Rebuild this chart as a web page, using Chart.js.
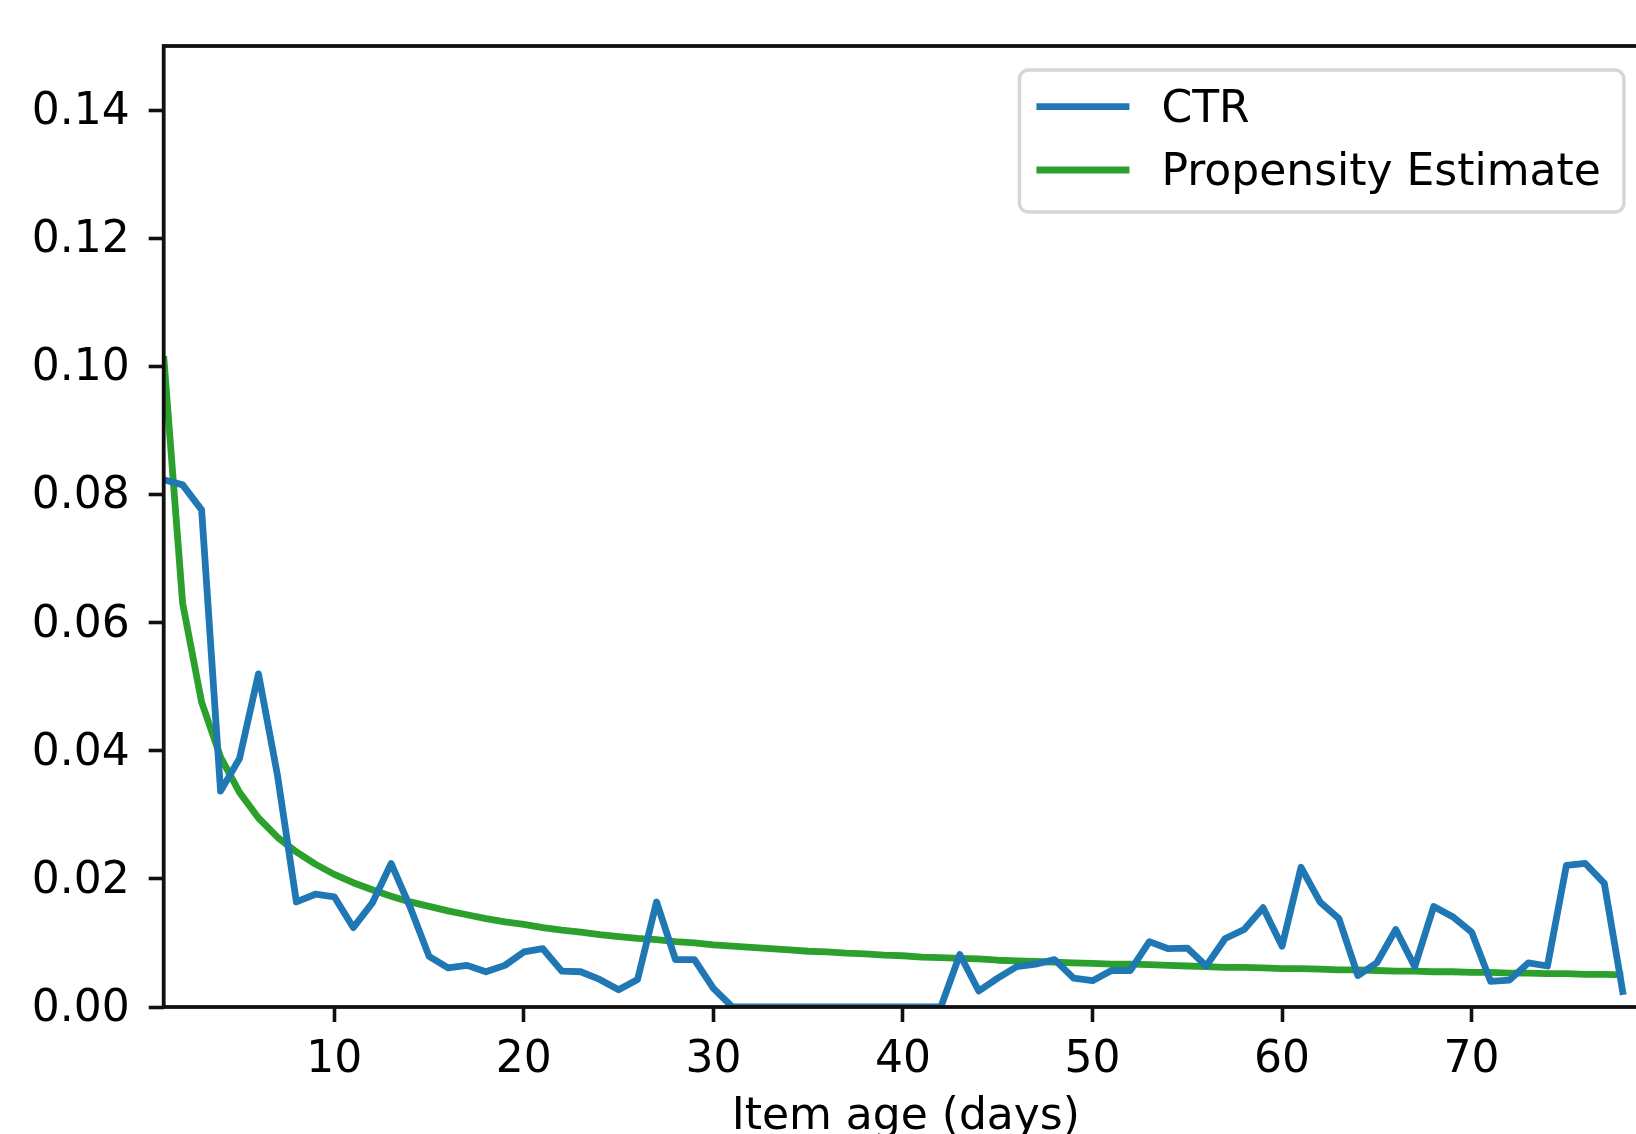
<!DOCTYPE html>
<html>
<head>
<meta charset="utf-8">
<script src="https://cdn.jsdelivr.net/npm/chart.js@4.4.1/dist/chart.umd.min.js"></script>
<style>
  html, body { margin: 0; padding: 0; background: #fff; overflow: hidden; }
  #wrap { width: 1636px; height: 1134px; overflow: hidden; position: relative; }
  #ageChart { position: absolute; left: 0; top: 0; }
</style>
</head>
<body>
<div id="wrap"><canvas id="ageChart" width="1680" height="1140"></canvas></div>
<script>
// item age in days
const days = [1, 2, 3, 4, 5, 6, 7, 8, 9, 10, 11, 12, 13, 14, 15, 16, 17, 18, 19, 20,
  21, 22, 23, 24, 25, 26, 27, 28, 29, 30, 31, 32, 33, 34, 35, 36, 37, 38, 39, 40,
  41, 42, 43, 44, 45, 46, 47, 48, 49, 50, 51, 52, 53, 54, 55, 56, 57, 58, 59, 60,
  61, 62, 63, 64, 65, 66, 67, 68, 69, 70, 71, 72, 73, 74, 75, 76, 77, 78];

const ctr = [0.0823, 0.0815, 0.0776, 0.0337, 0.0388, 0.0520, 0.0362, 0.0164, 0.0176, 0.0172,
  0.0124, 0.0162, 0.0224, 0.0156, 0.0079, 0.0061, 0.0065, 0.0055, 0.0065, 0.0086,
  0.0091, 0.0056, 0.0055, 0.0043, 0.0027, 0.0043, 0.0164, 0.0074, 0.0074, 0.0029,
  0, 0, 0, 0, 0, 0, 0, 0, 0, 0,
  0, 0, 0.0082, 0.0025, 0.0045, 0.0063, 0.0067, 0.0074, 0.0045, 0.0041,
  0.0057, 0.0057, 0.0102, 0.0091, 0.0092, 0.0064, 0.0107, 0.0121, 0.0155, 0.0095,
  0.0218, 0.0164, 0.0138, 0.0049, 0.0069, 0.0121, 0.0063, 0.0157, 0.0141, 0.0117,
  0.0040, 0.0042, 0.0069, 0.0064, 0.0221, 0.0224, 0.0193, 0.0019];

const propensity = [0.1016, 0.0630, 0.0476, 0.0390, 0.0335, 0.0295, 0.0265, 0.0242, 0.0223, 0.0207,
  0.0194, 0.0183, 0.0173, 0.0164, 0.0157, 0.0150, 0.0144, 0.0138, 0.0133, 0.0129,
  0.0124, 0.0120, 0.0117, 0.0113, 0.0110, 0.0107, 0.0105, 0.0102, 0.0100, 0.0097,
  0.0095, 0.0093, 0.0091, 0.0089, 0.0087, 0.0086, 0.0084, 0.0083, 0.0081, 0.0080,
  0.0078, 0.0077, 0.0076, 0.0075, 0.0073, 0.0072, 0.0071, 0.0070, 0.0069, 0.0068,
  0.0067, 0.0067, 0.0066, 0.0065, 0.0064, 0.0063, 0.0062, 0.0062, 0.0061, 0.0060,
  0.0060, 0.0059, 0.0058, 0.0058, 0.0057, 0.0056, 0.0056, 0.0055, 0.0055, 0.0054,
  0.0054, 0.0053, 0.0053, 0.0052, 0.0052, 0.0051, 0.0051, 0.0050];

const xTicks = [10, 20, 30, 40, 50, 60, 70];
const yTicks = [0, 0.02, 0.04, 0.06, 0.08, 0.10, 0.12, 0.14];
const yTickLabels = ['0.00', '0.02', '0.04', '0.06', '0.08', '0.10', '0.12', '0.14'];

const FONT = '"DejaVu Sans", "Liberation Sans", sans-serif';
Chart.defaults.font.family = FONT;
Chart.defaults.color = '#000';

// spines on all four sides, above the lines like matplotlib
const framePlugin = {
  id: 'frame',
  afterDatasetsDraw(chart) {
    const {ctx, chartArea: a} = chart;
    ctx.save();
    ctx.strokeStyle = '#111';
    ctx.lineWidth = 3.8;
    ctx.strokeRect(a.left, a.top, a.right - a.left, a.bottom - a.top);
    ctx.restore();
  }
};

// legend box in the upper right corner
const boxLegend = {
  id: 'boxLegend',
  afterDraw(chart) {
    const {ctx, chartArea: a} = chart;
    const sets = chart.data.datasets;
    ctx.save();
    ctx.font = '44px ' + FONT;
    const textW = Math.max(...sets.map(d => ctx.measureText(d.label).width));
    const padL = 17, handle = 93, gap = 32, padR = 23;
    const w = padL + handle + gap + textW + padR;
    const h = 142;
    const right = a.right - 24;
    const top = a.top + 24;
    const left = right - w;
    ctx.beginPath();
    ctx.roundRect(left, top, w, h, 9);
    ctx.fillStyle = 'rgba(255,255,255,0.8)';
    ctx.fill();
    ctx.strokeStyle = '#d6d6d6';
    ctx.lineWidth = 3.5;
    ctx.stroke();
    sets.forEach((d, i) => {
      const y = top + 36.7 + i * 63.3;
      ctx.beginPath();
      ctx.moveTo(left + padL, y);
      ctx.lineTo(left + padL + handle, y);
      ctx.strokeStyle = d.borderColor;
      ctx.lineWidth = 6.8;
      ctx.stroke();
      ctx.fillStyle = '#000';
      ctx.textBaseline = 'alphabetic';
      ctx.textAlign = 'left';
      ctx.fillText(d.label, left + padL + handle + gap, y + 15);
    });
    ctx.restore();
  }
};

const tickFont = {family: FONT, size: 44, lineHeight: 1};
// tiny line height so the empty first line nudges the label a few px down
const yTickFont = {family: FONT, size: 44, lineHeight: 5 / 44};

new Chart(document.getElementById('ageChart'), {
  type: 'line',
  data: {
    datasets: [
      {
        label: 'CTR',
        data: days.map((d, i) => ({x: d, y: ctr[i]})),
        borderColor: '#1f77b4',
        borderWidth: 6.8,
        borderJoinStyle: 'round',
        pointRadius: 0,
        tension: 0,
        fill: false
      },
      {
        label: 'Propensity Estimate',
        data: days.map((d, i) => ({x: d, y: propensity[i]})),
        borderColor: '#2ca02c',
        borderWidth: 6.8,
        borderJoinStyle: 'round',
        pointRadius: 0,
        tension: 0,
        fill: false
      }
    ]
  },
  options: {
    responsive: false,
    animation: false,
    layout: {padding: {left: 0, top: 46, right: 32.1, bottom: 0}},
    plugins: {
      legend: {display: false},
      tooltip: {enabled: false}
    },
    scales: {
      x: {
        type: 'linear',
        min: 1,
        max: 79.3,
        afterBuildTicks: s => { s.ticks = xTicks.map(v => ({value: v})); },
        afterFit: s => { s.height = 1140 - 1007; },
        grid: {display: true, drawOnChartArea: false, drawTicks: true, tickLength: 15, tickWidth: 3.6, tickColor: '#111'},
        border: {display: false},
        ticks: {font: tickFont, color: '#000', padding: 16.5, maxRotation: 0, minRotation: 0, autoSkip: false,
          callback: v => String(v)},
        title: {display: true, text: 'Item age (days)', font: tickFont, color: '#000', padding: {top: 0, bottom: 0}}
      },
      y: {
        type: 'linear',
        min: 0,
        max: 0.15,
        afterBuildTicks: s => { s.ticks = yTicks.map(v => ({value: v})); },
        afterFit: s => { s.width = 163.7; },
        grid: {display: true, drawOnChartArea: false, drawTicks: true, tickLength: 15, tickWidth: 3.6, tickColor: '#111'},
        border: {display: false},
        ticks: {font: yTickFont, color: '#000', padding: 19, autoSkip: false,
          callback: v => ['', yTickLabels[yTicks.indexOf(v)]]}
      }
    }
  },
  plugins: [framePlugin, boxLegend]
});
</script>
</body>
</html>
